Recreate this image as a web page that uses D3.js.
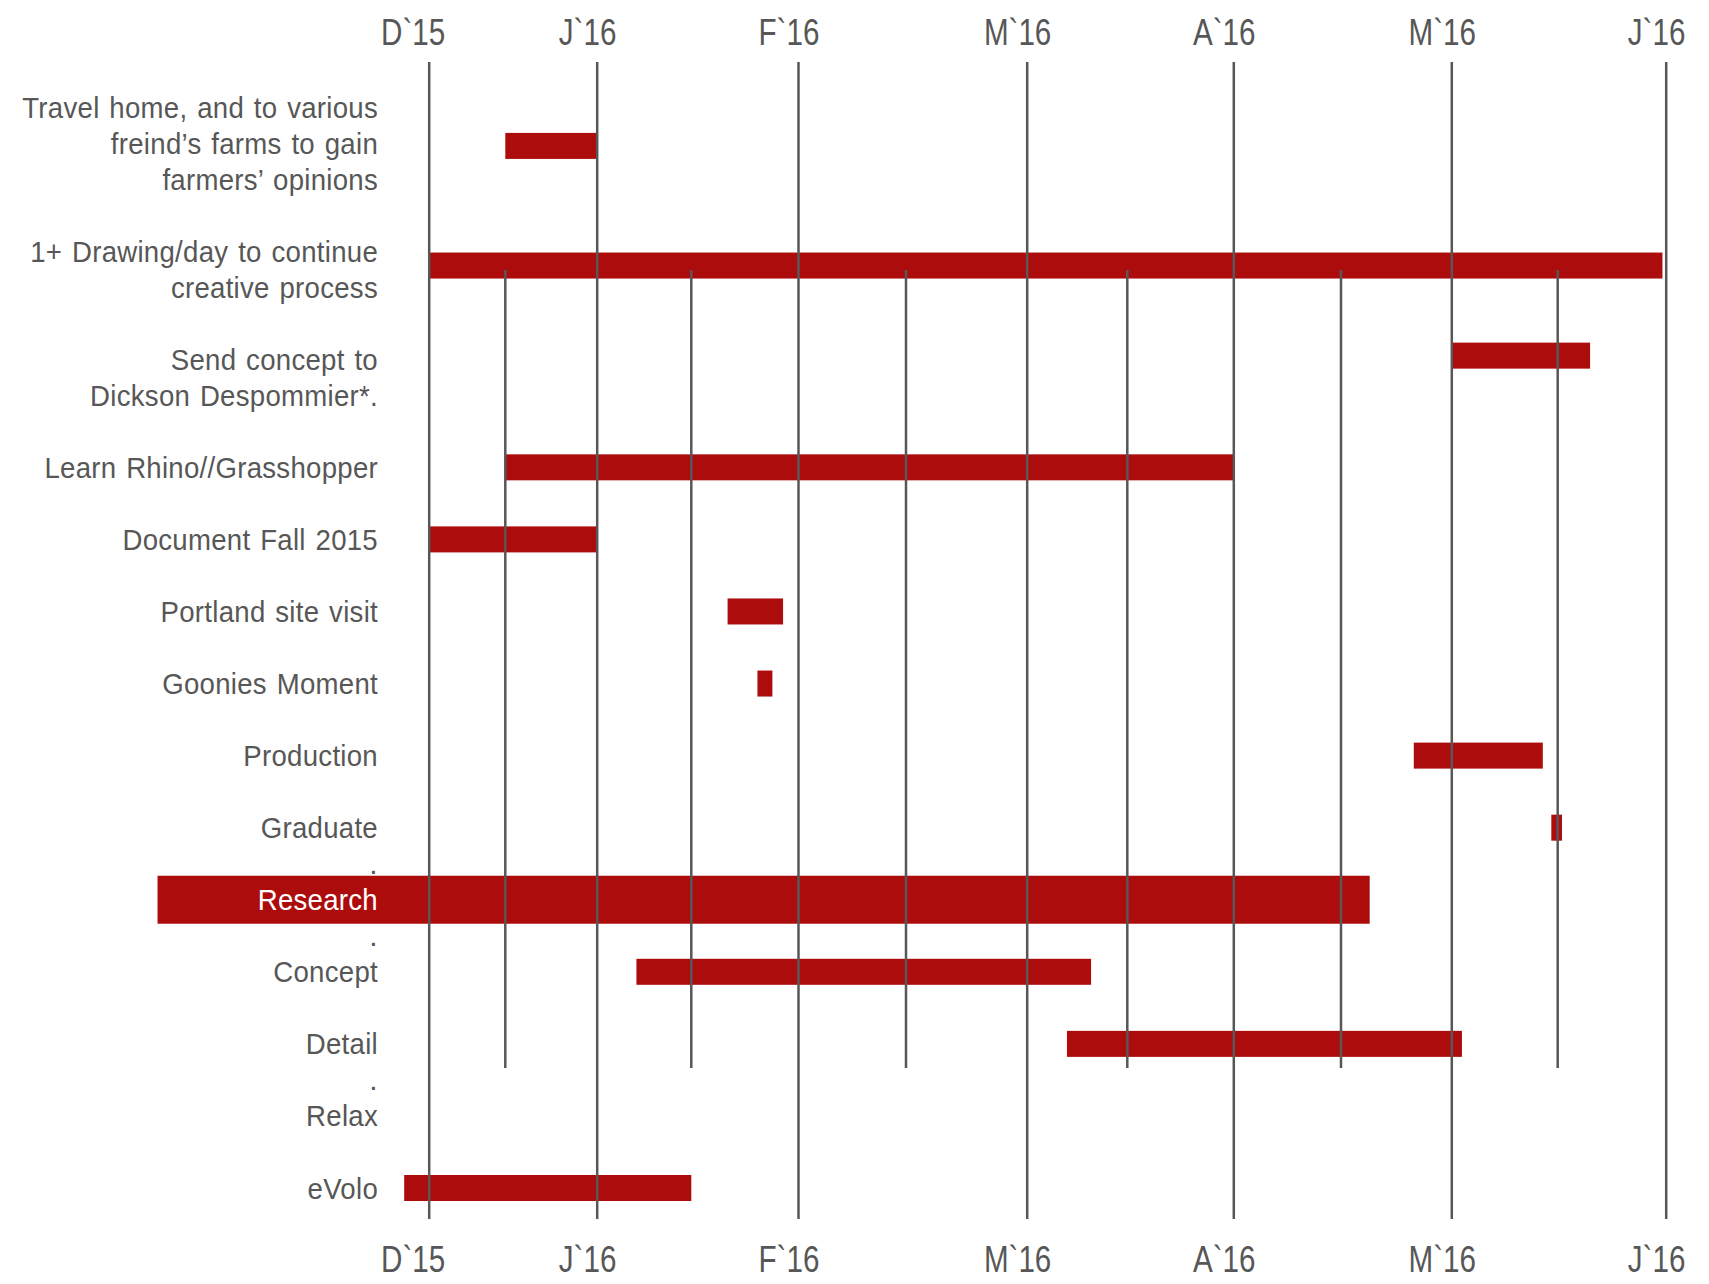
<!DOCTYPE html>
<html>
<head>
<meta charset="utf-8">
<script src="https://cdn.jsdelivr.net/npm/d3@7"></script>
<style>
  body { margin: 0; background: #fff; }
  svg text { font-family: "Liberation Sans", Arial, sans-serif; }
</style>
</head>
<body>
<div id="chart"></div>
<script>
// month ticks (0 = Dec 2015 ... 6 = Jun 2016)
var months = ["D`15", "J`16", "F`16", "M`16", "A`16", "M`16", "J`16"];
var monthTicks = [0, 1, 2, 3, 4, 5, 6];
var midTicks = [0.5, 1.5, 2.5, 3.5, 4.5, 5.5];

var taskLabels = [
  ["Travel home, and to various", "freind\u2019s farms to gain", "farmers\u2019 opinions"],
  ["1+ Drawing/day to continue", "creative process"],
  ["Send concept to", "Dickson Despommier*."],
  ["Learn Rhino//Grasshopper"],
  ["Document Fall 2015"],
  ["Portland site visit"],
  ["Goonies Moment"],
  ["Production"],
  ["Graduate"],
  ["Research"],
  ["Concept"],
  ["Detail"],
  ["Relax"],
  ["eVolo"]
];
// start / end in months from D`15
var taskStart = [0.5, 0, 5, 0.5, 0, 1.67, 1.81, 4.83, 5.47, -1.77, 1.21, 3.2, null, -0.16];
var taskEnd   = [1, 5.985, 5.65, 4, 1, 1.93, 1.88, 5.43, 5.52, 4.63, 3.32, 5.05, null, 1.5];
var mainTask = "Research";
var dotBefore = ["Research", "Concept", "Relax"];   // stray "." on the blank line above

var width = 1709, height = 1284;
var red = "#ad0c0d", grey = "#575757";

// the hand drawn grid is not evenly spaced, so the scale is piecewise
var gridX = [428.7, 505.3, 596.7, 691.3, 798, 906, 1026.7, 1127.3, 1233.3, 1341, 1451.3, 1557.7, 1665.7];
var x = d3.scaleLinear()
  .domain(d3.range(0, 6.25, 0.5))
  .range(gridX);

var lineY = d3.scaleLinear().domain([0, 30]).range([107, 1188]);
var gridTop = 62, gridBottom = 1219, minorTop = 270, minorBottom = 1068;
var labelRight = 378;
var squeeze = 0.92, tickSqueeze = 0.8;   // stand-in for the condensed face

// rows: each label line takes one line slot, plus one blank slot between rows
var rows = [];
var slot = 0;
taskLabels.forEach(function (lines, i) {
  var name = lines.join(" ");
  var barSlot = slot + (lines.length - 1) / 2;
  if (name.indexOf("Send concept") == 0) barSlot = slot - 0.1;
  else if (lines.length == 2) barSlot -= 0.1;
  if (lines.length == 3) barSlot += 0.08;
  rows.push({
    lines: lines,
    name: name,
    start: taskStart[i],
    end: taskEnd[i],
    slot: slot,
    barSlot: barSlot
  });
  slot += lines.length + 1;
});

var svg = d3.select("#chart")
  .append("svg")
  .attr("width", width)
  .attr("height", height);

// bars
svg.append("g")
  .selectAll("rect")
  .data(rows.filter(function (d) { return d.start != null; }))
  .join("rect")
  .attr("x", function (d) { return x(d.start); })
  .attr("width", function (d) { return x(d.end) - x(d.start); })
  .attr("y", function (d) {
    var h = d.name == mainTask ? 48 : 26;
    return lineY(d.barSlot) - h / 2;
  })
  .attr("height", function (d) { return d.name == mainTask ? 48 : 26; })
  .attr("fill", red);

// mid-month lines
svg.append("g")
  .selectAll("line")
  .data(midTicks)
  .join("line")
  .attr("x1", function (d) { return x(d); })
  .attr("x2", function (d) { return x(d); })
  .attr("y1", minorTop)
  .attr("y2", minorBottom)
  .attr("stroke", grey)
  .attr("stroke-width", 2.5);

// month lines + top labels
var topAxis = svg.append("g")
  .attr("transform", "translate(0," + gridTop + ")")
  .call(d3.axisTop(x)
    .tickValues(monthTicks)
    .tickFormat(function (d) { return months[d]; })
    .tickSizeInner(-(gridBottom - gridTop))
    .tickSizeOuter(0)
    .tickPadding(17));

var bottomAxis = svg.append("g")
  .attr("transform", "translate(0," + gridBottom + ")")
  .call(d3.axisBottom(x)
    .tickValues(monthTicks)
    .tickFormat(function (d) { return months[d]; })
    .tickSize(0)
    .tickPadding(27));

[topAxis, bottomAxis].forEach(function (g) {
  g.select(".domain").remove();
  g.selectAll(".tick line").attr("stroke", grey).attr("stroke-width", 2.5);
  g.selectAll(".tick text")
    .attr("fill", grey)
    .attr("dx", function (d) { return d == 0 ? -20 : -12; })
    .attr("transform", "scale(" + tickSqueeze + ",1)")
    .style("font-size", "37px");
});

// task labels
var labels = svg.append("g")
  .attr("text-anchor", "end")
  .style("font-size", "30px")
  .style("letter-spacing", "0.3px")
  .style("word-spacing", "2px");

rows.forEach(function (r) {
  r.lines.forEach(function (t, j) {
    labels.append("text")
      .attr("transform", "translate(" + labelRight + "," + (lineY(r.slot + j) + 10.5) + ") scale(" + squeeze + ",1)")
      .attr("fill", r.name == mainTask ? "#fff" : grey)
      .text(t);
  });
  if (dotBefore.includes(r.name)) {
    labels.append("text")
      .attr("transform", "translate(" + labelRight + "," + (lineY(r.slot - 1) + 10.5) + ")")
      .attr("fill", grey)
      .text(".");
  }
});
</script>
</body>
</html>
